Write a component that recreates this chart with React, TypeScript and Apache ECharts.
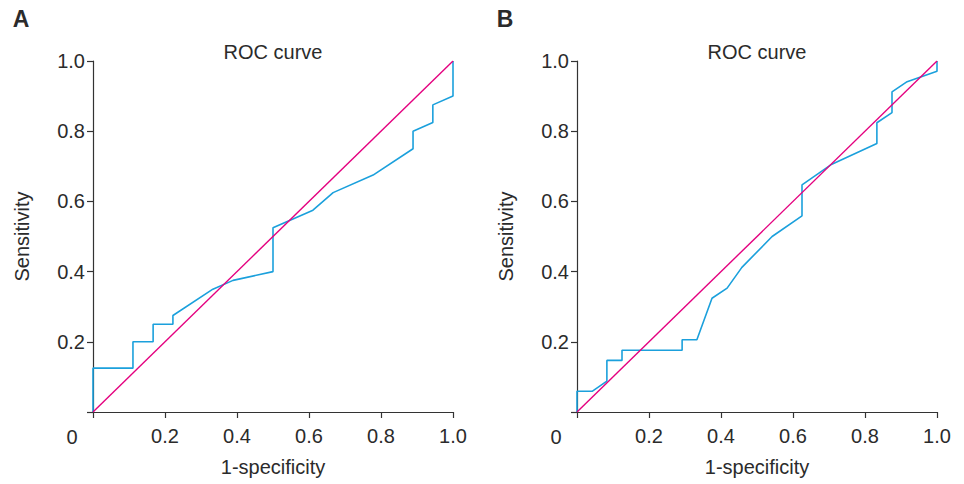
import React, { useEffect, useRef } from "react";
import * as echarts from "echarts";

const rocAx = [0, 0, 0.111, 0.111, 0.167, 0.167, 0.222, 0.222, 0.333, 0.389, 0.5, 0.5, 0.611, 0.667, 0.778, 0.889, 0.889, 0.944, 0.944, 1, 1];
const rocAy = [0, 0.125, 0.125, 0.2, 0.2, 0.25, 0.25, 0.275, 0.35, 0.375, 0.4, 0.525, 0.575, 0.625, 0.675, 0.75, 0.8, 0.825, 0.875, 0.9, 1];

const rocBx = [0, 0, 0.042, 0.083, 0.083, 0.125, 0.125, 0.292, 0.292, 0.333, 0.375, 0.417, 0.458, 0.542, 0.625, 0.625, 0.708, 0.833, 0.833, 0.875, 0.875, 0.917, 1, 1];
const rocBy = [0, 0.059, 0.059, 0.088, 0.147, 0.147, 0.176, 0.176, 0.206, 0.206, 0.324, 0.353, 0.412, 0.5, 0.559, 0.647, 0.706, 0.765, 0.824, 0.853, 0.912, 0.941, 0.971, 1];

const diagX = [0, 1];
const diagY = [0, 1];

const panelLetters = ["A", "B"];
const panelTitle = "ROC curve";
const xName = "1-specificity";
const yName = "Sensitivity";

const FONT = "Liberation Sans, Arial, Helvetica, sans-serif";
const TXT = "#2b2b2b";
const BLUE = "#1ba0dc";
const MAGENTA = "#e4007f";

function pairs(xs: number[], ys: number[]) {
  return xs.map((x, i) => [x, ys[i]]);
}

export default function App() {
  const ref = useRef<HTMLDivElement>(null);
  useEffect(() => {
    if (!ref.current) return;
    const chart = echarts.init(ref.current, null, { renderer: "svg" });
    const grids = [
      { left: 93, right: 511, top: 61, bottom: 72 },
      { left: 577, right: 27, top: 61, bottom: 72 },
    ];
    const axisLine = { show: true, lineStyle: { color: "#333", width: 1.2 } };
    const axisTick = { show: true, length: 6, lineStyle: { color: "#333", width: 1.2 } };
    const labelStyle = { color: TXT, fontSize: 20, fontFamily: FONT };
    const fmt = (v: number) => (v === 0 ? "" : v.toFixed(1));
    const xAxes = grids.map((_, i) => ({
      type: "value",
      gridIndex: i,
      min: 0,
      max: 1,
      interval: 0.2,
      axisLine,
      axisTick,
      splitLine: { show: false },
      axisLabel: { ...labelStyle, margin: 14, formatter: fmt },
      name: xName,
      nameLocation: "middle",
      nameGap: 45,
      nameTextStyle: { ...labelStyle },
    }));
    const yAxes = grids.map((_, i) => ({
      type: "value",
      gridIndex: i,
      min: 0,
      max: 1,
      interval: 0.2,
      axisLine,
      axisTick,
      splitLine: { show: false },
      axisLabel: { ...labelStyle, margin: 8, formatter: fmt },
      name: yName,
      nameLocation: "middle",
      nameGap: 61,
      nameTextStyle: { ...labelStyle },
    }));
    const rocs = [pairs(rocAx, rocAy), pairs(rocBx, rocBy)];
    const series: any[] = [];
    rocs.forEach((d, i) => {
      series.push({
        type: "line",
        xAxisIndex: i,
        yAxisIndex: i,
        data: d,
        symbol: "none",
        lineStyle: { color: BLUE, width: 1.6 },
        z: 2,
      });
      series.push({
        type: "line",
        xAxisIndex: i,
        yAxisIndex: i,
        data: pairs(diagX, diagY),
        symbol: "none",
        lineStyle: { color: MAGENTA, width: 1.4 },
        z: 3,
      });
    });
    const graphics: any[] = [];
    const offsets = [0, 484];
    offsets.forEach((dx, i) => {
      graphics.push({
        type: "text",
        x: 21 + dx,
        y: 19,
        style: {
          text: panelLetters[i],
          font: `bold 23px ${FONT}`,
          fill: TXT,
          align: "center",
          verticalAlign: "middle",
        },
      });
      graphics.push({
        type: "text",
        x: 273 + dx,
        y: 52,
        style: {
          text: panelTitle,
          font: `20px ${FONT}`,
          fill: TXT,
          align: "center",
          verticalAlign: "middle",
        },
      });
      graphics.push({
        type: "text",
        x: 72 + dx,
        y: 437,
        style: {
          text: "0",
          font: `20px ${FONT}`,
          fill: TXT,
          align: "center",
          verticalAlign: "middle",
        },
      });
    });
    chart.setOption({
      animation: false,
      backgroundColor: "#ffffff",
      grid: grids,
      xAxis: xAxes,
      yAxis: yAxes,
      series,
      graphic: graphics,
    });
    return () => chart.dispose();
  }, []);
  return <div ref={ref} style={{ width: 964, height: 484, position: "absolute", left: 0, top: 0 }} />;
}
